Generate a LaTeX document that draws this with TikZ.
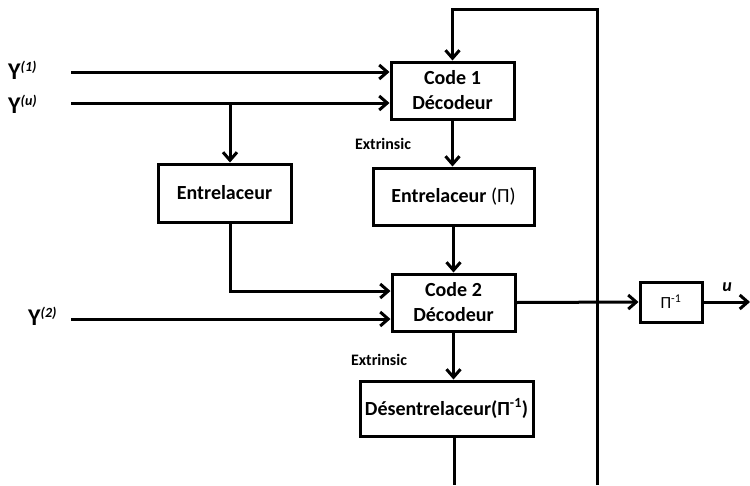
\documentclass[tikz,border=0pt]{standalone}
\usepackage{fontspec}
\setmainfont{Carlito}
\usetikzlibrary{arrows.meta}
\tikzset{
  blk/.style={draw, line width=3pt, rectangle, inner sep=0pt, align=center,
    font=\fontsize{20}{25}\selectfont\bfseries},
  arr/.style={line width=3pt, -{Straight Barb[length=8pt,width=14pt,line width=3pt]}},
  ln/.style={line width=3pt},
  lbl/.style={font=\fontsize{16}{19}\selectfont\bfseries, inner sep=0pt},
}
\newcommand{\ylab}[1]{{\fontsize{24}{28}\selectfont\bfseries Y}\raisebox{8pt}{\fontsize{14}{16}\selectfont\bfseries\itshape(#1)}}
\begin{document}
\begin{tikzpicture}[x=1pt,y=-1pt]
\useasboundingbox (0,0) rectangle (750,485);
% blocks
\node[blk, minimum width=123, minimum height=57] (c1) at (452.5,90.5) {Code 1\\Décodeur};
\node[blk, minimum width=161, minimum height=57] (ent2) at (453.5,196.5) {Entrelaceur {\mdseries(Π)}};
\node[blk, minimum width=133, minimum height=58] (ent) at (224.5,193) {Entrelaceur};
\node[blk, minimum width=123, minimum height=57] (c2) at (453.5,302.5) {Code 2\\Décodeur};
\node[blk, minimum width=173, minimum height=55] (des) at (446.5,408.5) {Désentrelaceur(Π\textsuperscript{-1})};
\node[blk, minimum width=62, minimum height=40, font=\fontsize{17}{20}\selectfont] (pinv) at (671,302) {Π\textsuperscript{-1}};
% labels
\node[anchor=base west, inner sep=0pt] (y1) at (8,79) {\ylab{1}};
\node[anchor=base west, inner sep=0pt] (yu) at (8,113) {\ylab{u}};
\node[anchor=base west, inner sep=0pt] (y2) at (28,325) {\ylab{2}};
\node[lbl] (ex1) at (383,144) {Extrinsic};
\node[lbl] (ex2) at (379,360) {Extrinsic};
% coordinates
\coordinate (y1s) at (71,72);
\coordinate (yus) at (71,103);
\coordinate (y2s) at (71,319);
\coordinate (bu) at (230,103);
\coordinate (out) at (750,302);
\coordinate (dbot) at (454,485);
\coordinate (fbb) at (597,485);
\coordinate (fbt) at (597,9);
\node[font=\fontsize{18}{20}\selectfont\bfseries\itshape, inner sep=0pt] (ulab) at (727,287) {u};
% connectors
\draw[arr] (y1s) -- (y1s -| c1.west);
\draw[arr] (yus) -- (yus -| c1.west);
\draw[arr] (bu) -- (bu |- ent.north);
\draw[arr] (c1.south) -- (c1.south |- ent2.north);
\draw[arr] (ent2.south) -- (ent2.south |- c2.north);
\draw[arr] (bu |- ent.south) |- ([yshift=11.5pt]c2.west);
\draw[arr] (y2s) -- (y2s -| c2.west);
\draw[arr] (c2.east) -- (pinv.west);
\draw[arr] (pinv.east) -- (out);
\draw[arr] (c2.south) -- (c2.south |- des.north);
\draw[ln] (des.south -| dbot) -- (dbot);
\draw[arr] (fbb) -- (fbt) -| (c1.north);
\end{tikzpicture}
\end{document}
